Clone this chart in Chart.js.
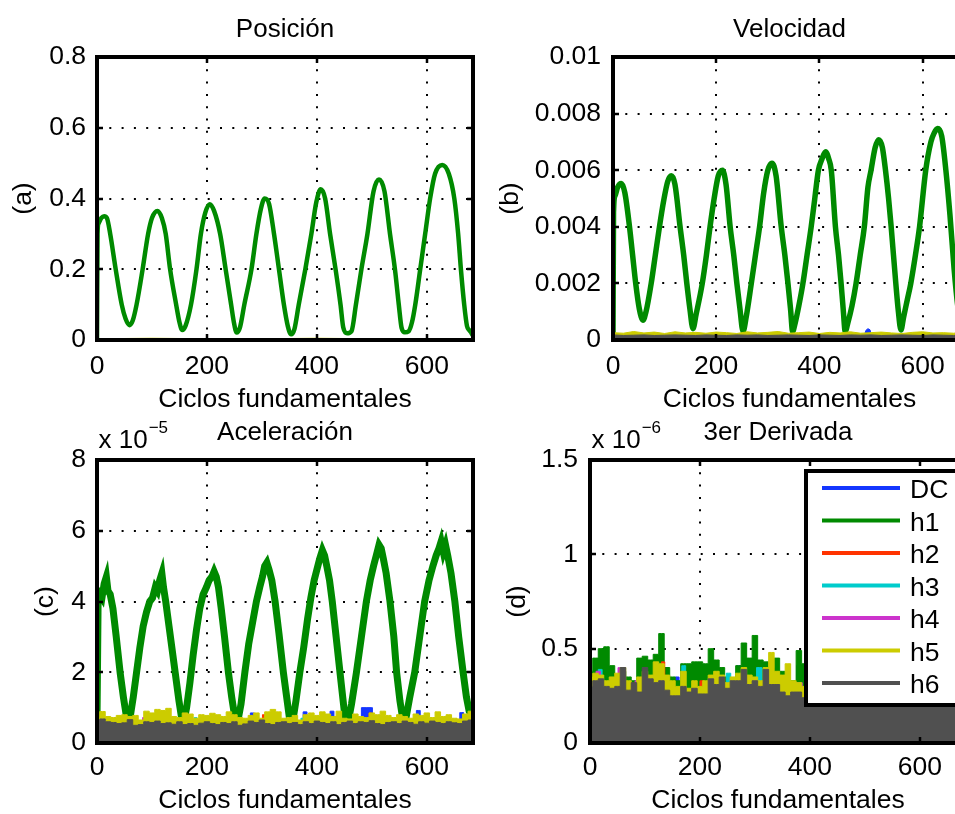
<!DOCTYPE html>
<html lang="es">
<head>
<meta charset="utf-8">
<title>Armónicos por ciclo</title>
<script src="https://cdn.jsdelivr.net/npm/chart.js@4.4.1/dist/chart.umd.min.js"></script>
<style>
  html, body { margin: 0; padding: 0; background: #fff; overflow: hidden; }
  body { position: relative; width: 955px; height: 814px; }
  canvas { position: absolute; }
</style>
</head>
<body>
<canvas id="pos" width="480" height="420" style="left:0;top:0"></canvas>
<canvas id="vel" width="500" height="420" style="left:480px;top:0"></canvas>
<canvas id="acc" width="480" height="394" style="left:0;top:420px"></canvas>
<canvas id="der" width="500" height="394" style="left:480px;top:420px"></canvas>
<script>
// series names / colours (DC + harmonics 1..6)
const seriesNames = ['DC', 'h1', 'h2', 'h3', 'h4', 'h5', 'h6'];
const seriesColors = ['#1436ff', '#008a00', '#ff3300', '#00cccc', '#cc33cc', '#cccc00', '#505050'];

// shared x ticks
const cycleTicks = [0, 200, 400, 600];
const cycleMax = 684;

// y ticks per panel
const posYTicks = [0, 0.2, 0.4, 0.6, 0.8];
const velYTicks = [0, 0.002, 0.004, 0.006, 0.008, 0.01];
const accYTicks = [0, 2, 4, 6, 8];        // x 10^-5
const derYTicks = [0, 0.5, 1, 1.5];       // x 10^-6

// (a) position, h1
const posX = [0, 1, 3, 8, 13, 18, 24, 34, 45, 52,
  59, 65, 72, 83, 93, 100, 110, 118, 125, 133,
  144, 150, 155, 161, 171, 181, 189, 197, 205, 213,
  224, 234, 244, 249, 254, 260, 268, 281, 290, 298,
  305, 313, 322, 331, 340, 347, 353, 359, 367, 379,
  390, 399, 407, 415, 424, 434, 443, 448, 455, 463,
  471, 481, 492, 503, 513, 523, 533, 542, 549, 554,
  560, 567, 573, 579, 588, 597, 606, 615, 628, 640,
  650, 657, 662, 668, 673, 677, 681, 684];
const posH1 = [0, 0.30, 0.33, 0.345, 0.35, 0.345, 0.30, 0.20, 0.10, 0.06,
  0.042, 0.055, 0.10, 0.20, 0.30, 0.345, 0.365, 0.345, 0.30, 0.20,
  0.10, 0.05, 0.028, 0.04, 0.10, 0.20, 0.30, 0.36, 0.384, 0.365,
  0.30, 0.20, 0.10, 0.05, 0.021, 0.035, 0.10, 0.20, 0.30, 0.37,
  0.40, 0.385, 0.30, 0.20, 0.10, 0.04, 0.016, 0.03, 0.10, 0.20,
  0.30, 0.39, 0.426, 0.40, 0.30, 0.20, 0.10, 0.035, 0.019, 0.025,
  0.10, 0.20, 0.30, 0.42, 0.454, 0.42, 0.30, 0.20, 0.10, 0.035,
  0.022, 0.025, 0.05, 0.10, 0.20, 0.30, 0.40, 0.47, 0.495, 0.47,
  0.40, 0.30, 0.20, 0.10, 0.04, 0.028, 0.02, 0.012];
const posNoiseX = [0, 100, 200, 300, 400, 500, 600, 684];
const posH5 = [0.0035, 0.005, 0.0035, 0.0035, 0.005, 0.0035, 0.0035, 0.0035];
const posH6 = [0.004, 0.0042, 0.004, 0.0038, 0.004, 0.0042, 0.004, 0.004];

// (b) velocity, h1
const velX = [0, 1, 4, 9, 16, 23, 32, 38, 44, 51,
  58, 64, 74, 82, 90, 98, 106, 113, 120, 130,
  137, 143, 149, 155, 161, 173, 181, 188, 196, 204,
  212, 219, 227, 234, 240, 246, 252, 258, 268, 276,
  284, 292, 300, 308, 316, 326, 333, 339, 344, 348,
  353, 360, 368, 376, 384, 391, 398, 405, 412, 418,
  423, 431, 437, 442, 446, 450, 455, 463, 471, 479,
  487, 494, 500, 508, 515, 522, 528, 534, 539, 548,
  553, 558, 563, 570, 577, 586, 594, 606, 616, 622,
  629, 637, 645, 653, 661, 668, 674, 679, 684];
const velH1 = [0, 0.0045, 0.0051, 0.0054, 0.00553, 0.0052, 0.004, 0.003, 0.002, 0.0011,
  0.0007, 0.001, 0.002, 0.003, 0.004, 0.0049, 0.0056, 0.0058, 0.0055, 0.004,
  0.003, 0.002, 0.0011, 0.0004, 0.0009, 0.002, 0.003, 0.004, 0.005, 0.0058,
  0.006, 0.0055, 0.004, 0.003, 0.002, 0.0011, 0.0003, 0.0008, 0.002, 0.003,
  0.004, 0.0052, 0.006, 0.00625, 0.0058, 0.004, 0.003, 0.002, 0.0011, 0.0003,
  0.0006, 0.0012, 0.002, 0.003, 0.004, 0.005, 0.006, 0.0064, 0.00665, 0.0064,
  0.006, 0.004, 0.003, 0.002, 0.0011, 0.0003, 0.0006, 0.0012, 0.002, 0.003,
  0.004, 0.0054, 0.006, 0.0068, 0.00708, 0.0068, 0.006, 0.005, 0.004, 0.002,
  0.001, 0.00035, 0.0008, 0.0014, 0.002, 0.003, 0.004, 0.006, 0.007, 0.0073,
  0.00747, 0.0072, 0.006, 0.0044, 0.0025, 0.0012, 0.0005, 0.0003, 0.0003];
const velNoiseX = [0, 20, 40, 60, 80, 100, 120, 140, 160, 180,
  200, 220, 240, 260, 280, 300, 320, 340, 360, 380,
  400, 420, 440, 460, 480, 500, 520, 540, 560, 580,
  600, 620, 640, 660, 680, 684];
const velH5 = [0.00026, 0.00024, 0.0003, 0.00025, 0.00028, 0.00023, 0.00029, 0.00025, 0.00027, 0.00024,
  0.00028, 0.00026, 0.00023, 0.00029, 0.00025, 0.00027, 0.0003, 0.00024, 0.00026, 0.00028,
  0.00023, 0.00027, 0.00025, 0.00029, 0.00024, 0.00026, 0.00028, 0.00025, 0.00023, 0.00027,
  0.00029, 0.00025, 0.00026, 0.00024, 0.00028, 0.00026];
const velH6 = [0.00018, 0.00016, 0.00017, 0.00018, 0.00016, 0.00017, 0.00018, 0.00017, 0.00016, 0.00018,
  0.00017, 0.00016, 0.00018, 0.00017, 0.00018, 0.00016, 0.00017, 0.00018, 0.00017, 0.00016,
  0.00018, 0.00017, 0.00016, 0.00018, 0.00017, 0.00018, 0.00016, 0.00017, 0.00018, 0.00017,
  0.00016, 0.00018, 0.00017, 0.00016, 0.00018, 0.00017];
const velDcX = [0, 486, 490, 494, 498, 502, 684];
const velDc = [0.0001, 0.0001, 0.00034, 0.0004, 0.00036, 0.0001, 0.0001];

// (c) acceleration (x 10^-5), h1
const accX = [0, 2, 5, 9, 13, 17, 20, 24, 29, 35,
  42, 48, 53, 57, 61, 66, 72, 78, 84, 90,
  96, 101, 106, 110, 114, 118, 121, 125, 131, 137,
  143, 149, 154, 158, 163, 169, 175, 181, 187, 193,
  199, 204, 209, 213, 217, 221, 226, 232, 239, 245,
  251, 256, 262, 269, 276, 283, 290, 296, 301, 305,
  309, 313, 318, 324, 331, 339, 345, 351, 356, 362,
  369, 376, 383, 389, 395, 400, 405, 410, 414, 418,
  423, 428, 435, 442, 447, 452, 457, 463, 472, 481,
  490, 497, 503, 508, 513, 517, 521, 526, 533, 540,
  545, 551, 557, 562, 569, 578, 587, 596, 604, 611,
  617, 622, 626, 630, 634, 638, 644, 651, 658, 666,
  672, 677, 681, 684];
const accH1 = [0.6, 4.0, 4.2, 4.1, 4.5, 4.7, 4.3, 4.2, 3.8, 3.0,
  2.0, 1.3, 0.8, 0.6, 0.8, 1.3, 2.0, 2.7, 3.3, 3.7,
  4.0, 4.1, 4.4, 4.3, 4.6, 4.8, 4.4, 4.0, 3.3, 2.6,
  1.9, 1.2, 0.7, 0.6, 1.0, 1.7, 2.5, 3.2, 3.8, 4.2,
  4.4, 4.6, 4.7, 4.85, 4.7, 4.4, 3.8, 3.0, 2.0, 1.3,
  0.7, 0.6, 1.1, 2.0, 2.8, 3.4, 4.0, 4.4, 4.7, 5.0,
  5.1, 4.9, 4.6, 4.0, 3.1, 2.0, 1.3, 0.6, 0.6, 1.2,
  2.0, 2.7, 3.5, 4.1, 4.6, 4.9, 5.2, 5.45, 5.3, 5.0,
  4.6, 4.0, 3.0, 2.0, 1.3, 0.6, 0.6, 1.1, 2.0, 3.0,
  4.0, 4.6, 5.0, 5.3, 5.6, 5.5, 5.2, 4.8, 4.0, 3.0,
  2.0, 1.2, 0.6, 0.7, 1.3, 2.0, 3.0, 4.0, 4.6, 5.0,
  5.3, 5.5, 5.7, 5.4, 5.6, 5.3, 4.8, 4.0, 3.0, 2.0,
  1.3, 0.9, 0.8, 0.9];

// harmonic noise envelopes, sampled every 10 cycles
const noiseX = [0, 10, 20, 30, 40, 50, 60, 70, 80, 90,
  100, 110, 120, 130, 140, 150, 160, 170, 180, 190,
  200, 210, 220, 230, 240, 250, 260, 270, 280, 290,
  300, 310, 320, 330, 340, 350, 360, 370, 380, 390,
  400, 410, 420, 430, 440, 450, 460, 470, 480, 490,
  500, 510, 520, 530, 540, 550, 560, 570, 580, 590,
  600, 610, 620, 630, 640, 650, 660, 670, 680, 684];
const accH5 = [0.7, 0.89, 0.75, 0.72, 0.78, 0.8, 0.75, 0.78, 0.65, 0.9,
  0.85, 0.95, 0.92, 0.98, 0.75, 0.72, 0.85, 0.82, 0.7, 0.8,
  0.78, 0.84, 0.8, 0.75, 0.88, 0.8, 0.72, 0.7, 0.78, 0.85,
  0.7, 0.88, 0.95, 0.88, 0.7, 0.72, 0.78, 0.65, 0.8, 0.85,
  0.78, 0.88, 0.82, 0.75, 0.9, 0.7, 0.68, 0.82, 0.75, 0.72,
  0.85, 0.8, 0.9, 0.78, 0.72, 0.8, 0.75, 0.7, 0.82, 0.78,
  0.85, 0.72, 0.88, 0.75, 0.8, 0.7, 0.68, 0.82, 0.9, 0.92];
const accH6 = [0.65, 0.68, 0.6, 0.58, 0.55, 0.57, 0.66, 0.5, 0.52, 0.6,
  0.58, 0.62, 0.55, 0.57, 0.53, 0.6, 0.52, 0.55, 0.5, 0.56,
  0.6, 0.55, 0.52, 0.58, 0.55, 0.6, 0.5, 0.54, 0.62, 0.58,
  0.65, 0.55, 0.52, 0.58, 0.6, 0.55, 0.58, 0.52, 0.6, 0.55,
  0.62, 0.58, 0.55, 0.6, 0.52, 0.58, 0.62, 0.55, 0.6, 0.58,
  0.63, 0.55, 0.52, 0.58, 0.6, 0.55, 0.62, 0.58, 0.53, 0.6,
  0.56, 0.62, 0.58, 0.55, 0.6, 0.57, 0.55, 0.62, 0.65, 0.66];
const accDcX = [0, 278, 280, 285, 287, 374, 376, 381, 383, 423, 425, 430, 432,
  480, 482, 500, 502, 580, 582, 587, 589, 659, 661, 666, 668, 684];
const accDc = [0.3, 0.3, 0.85, 0.85, 0.3, 0.3, 0.88, 0.88, 0.3, 0.3, 0.9, 0.9, 0.3,
  0.3, 1.0, 1.0, 0.3, 0.3, 0.92, 0.92, 0.3, 0.3, 0.86, 0.86, 0.3, 0.3];
const accH2X = [0, 300, 302, 305, 307, 431, 433, 436, 438, 494, 496, 499, 501, 684];
const accH2 = [0.3, 0.3, 0.8, 0.8, 0.3, 0.3, 0.75, 0.75, 0.3, 0.3, 0.85, 0.85, 0.3, 0.3];
const accH3X = [0, 176, 178, 181, 183, 370, 372, 375, 377, 684];
const accH3 = [0.3, 0.3, 0.72, 0.72, 0.3, 0.3, 0.7, 0.7, 0.3, 0.3];
const accH4X = [0, 82, 84, 87, 89, 618, 620, 623, 625, 684];
const accH4 = [0.3, 0.3, 0.72, 0.72, 0.3, 0.3, 0.7, 0.7, 0.3, 0.3];

// (d) third derivative (x 10^-6)
const derH6 = [0.30, 0.33, 0.34, 0.30, 0.29, 0.30, 0.40, 0.28, 0.32, 0.27,
  0.40, 0.34, 0.32, 0.33, 0.28, 0.25, 0.25, 0.30, 0.27, 0.29,
  0.26, 0.26, 0.34, 0.31, 0.35, 0.29, 0.33, 0.33, 0.39, 0.31,
  0.33, 0.30, 0.39, 0.31, 0.31, 0.27, 0.25, 0.27, 0.27, 0.24,
  0.30, 0.28, 0.33, 0.30, 0.27, 0.32, 0.29, 0.35, 0.30, 0.28,
  0.31, 0.34, 0.29, 0.27, 0.32, 0.30, 0.28, 0.33, 0.30, 0.29,
  0.31, 0.27, 0.30, 0.33, 0.28, 0.30, 0.32, 0.29, 0.31, 0.30];
const derColX = [0, 10, 20, 30, 40, 50, 60, 70, 80, 90,
  100, 110, 120, 130, 140, 150, 160, 170, 180, 190,
  200, 210, 220, 230, 240, 250, 260, 270, 280, 290,
  300, 310, 320, 330, 340, 350, 360, 370, 380, 390, 400];
const derH5 = [0.35, 0.37, 0.36, 0.33, 0.35, 0.37, 0.40, 0.33, 0.30, 0.35,
  0.38, 0.36, 0.43, 0.42, 0.36, 0.33, 0.30, 0.38, 0.29, 0.33,
  0.30, 0.33, 0.36, 0.38, 0.36, 0.32, 0.35, 0.37, 0.40, 0.36,
  0.35, 0.33, 0.40, 0.48, 0.38, 0.36, 0.42, 0.33, 0.32, 0.30, 0.30];
const derH1 = [0.38, 0.45, 0.50, 0.51, 0.41, 0.36, 0.38, 0.35, 0.33, 0.45,
  0.46, 0.44, 0.47, 0.58, 0.40, 0.35, 0.33, 0.42, 0.42, 0.43,
  0.43, 0.42, 0.50, 0.44, 0.40, 0.35, 0.34, 0.41, 0.53, 0.45,
  0.57, 0.44, 0.43, 0.40, 0.45, 0.38, 0.31, 0.33, 0.49, 0.42, 0.40];
const derDcX = [0, 135, 137, 142, 144, 154, 156, 161, 163, 266, 268, 273, 275,
  296, 298, 301, 303, 375, 377, 382, 384, 400];
const derDc = [0.15, 0.15, 0.40, 0.40, 0.15, 0.15, 0.35, 0.35, 0.15, 0.15, 0.41, 0.41, 0.15,
  0.15, 0.47, 0.47, 0.15, 0.15, 0.41, 0.41, 0.15, 0.15];
const derH2X = [0, 129, 131, 135, 137, 199, 201, 206, 208, 400];
const derH2 = [0.15, 0.15, 0.43, 0.43, 0.15, 0.15, 0.33, 0.33, 0.15, 0.15];
const derH3X = [0, 14, 16, 21, 23, 166, 168, 173, 175, 247, 249, 255, 257,
  302, 304, 312, 314, 354, 356, 364, 366, 400];
const derH3 = [0.15, 0.15, 0.39, 0.39, 0.15, 0.15, 0.41, 0.41, 0.15, 0.15, 0.37, 0.37, 0.15,
  0.15, 0.40, 0.40, 0.15, 0.15, 0.33, 0.33, 0.15, 0.15];
const derH4X = [0, 10, 12, 18, 20, 50, 52, 56, 58, 81, 83, 88, 90, 366, 368, 385, 387, 400];
const derH4 = [0.15, 0.15, 0.38, 0.38, 0.15, 0.15, 0.40, 0.40, 0.15, 0.15, 0.33, 0.33, 0.15,
  0.15, 0.32, 0.32, 0.15, 0.15];

const FONT = "'Liberation Sans', Arial, Helvetica, sans-serif";
const TEXT_SIZE = 26.5;
Chart.defaults.font.family = FONT;
Chart.defaults.font.size = TEXT_SIZE;
Chart.defaults.color = '#000';

function pts(xs, ys) {
  return xs.map((x, i) => ({ x: x, y: ys[i] }));
}

// plain trace; later harmonics get a lower order so they paint on top
function line(i, xs, ys, width, smooth) {
  return {
    label: seriesNames[i], data: pts(xs, ys),
    borderColor: seriesColors[i], borderWidth: width,
    pointRadius: 0, fill: false,
    tension: smooth ? 0.4 : 0,
    cubicInterpolationMode: smooth ? 'monotone' : 'default',
    order: -i
  };
}

// dense oscillating harmonic drawn as its filled envelope
function band(i, xs, ys, stepped) {
  return {
    label: seriesNames[i], data: pts(xs, ys),
    borderColor: seriesColors[i], backgroundColor: seriesColors[i],
    borderWidth: 1, pointRadius: 0, fill: 'origin',
    stepped: stepped ? 'middle' : false,
    order: -i
  };
}

function drawLegend(ctx, a) {
  const left = a.left + 216, top = a.top + 11;
  const right = a.right - 4, bottom = a.top + 245;
  ctx.fillStyle = '#fff';
  ctx.fillRect(left, top, right - left, bottom - top);
  ctx.lineWidth = 4;
  ctx.strokeStyle = '#000';
  ctx.strokeRect(left, top, right - left, bottom - top);
  ctx.font = TEXT_SIZE + 'px ' + FONT;
  ctx.textAlign = 'left';
  ctx.textBaseline = 'alphabetic';
  seriesNames.forEach((name, i) => {
    const base = top + 27 + i * 32.5;
    ctx.strokeStyle = seriesColors[i];
    ctx.lineWidth = 4;
    ctx.beginPath();
    ctx.moveTo(left + 16, base - 10);
    ctx.lineTo(left + 94, base - 10);
    ctx.stroke();
    ctx.fillStyle = '#000';
    ctx.fillText(name, left + 104, base);
  });
}

// box, inward tick marks, subplot title, exponent and legend
function decor(cfg) {
  return {
    id: 'decor',
    afterDatasetsDraw(chart) {
      const { ctx, chartArea: a, scales } = chart;
      ctx.save();
      ctx.strokeStyle = '#000';
      ctx.lineWidth = 2.5;
      ctx.beginPath();
      cycleTicks.forEach(v => {
        const px = Math.round(scales.x.getPixelForValue(v));
        ctx.moveTo(px, a.bottom); ctx.lineTo(px, a.bottom - 6);
        ctx.moveTo(px, a.top); ctx.lineTo(px, a.top + 6);
      });
      cfg.yTicks.forEach(v => {
        const py = Math.round(scales.y.getPixelForValue(v));
        ctx.moveTo(a.left, py); ctx.lineTo(a.left + 6, py);
        ctx.moveTo(a.right, py); ctx.lineTo(a.right - 6, py);
      });
      ctx.stroke();
      ctx.lineWidth = 4;
      ctx.strokeRect(a.left, a.top, a.right - a.left, a.bottom - a.top);
      ctx.restore();
    },
    afterDraw(chart) {
      const { ctx, chartArea: a } = chart;
      ctx.save();
      ctx.fillStyle = '#000';
      ctx.font = '26px ' + FONT;
      ctx.textAlign = 'center';
      ctx.textBaseline = 'alphabetic';
      ctx.fillText(cfg.title, (a.left + a.right) / 2, a.top - 20);
      if (cfg.exponent) {
        ctx.textAlign = 'left';
        ctx.fillText('x 10', a.left + 1.5, a.top - 12);
        const w = ctx.measureText('x 10').width;
        ctx.font = '17px ' + FONT;
        ctx.fillText('\u2212' + cfg.exponent, a.left + 2.5 + w, a.top - 27);
      }
      if (cfg.legend) drawLegend(ctx, a);
      ctx.restore();
    }
  };
}

function panel(id, cfg, datasets) {
  const grid = { color: '#000', lineWidth: 2, drawTicks: false };
  const border = { display: false, dash: [2, 10.3] };
  return new Chart(document.getElementById(id), {
    type: 'line',
    data: { datasets: datasets },
    options: {
      responsive: false,
      animation: false,
      events: [],
      layout: { autoPadding: false, padding: { top: cfg.top, right: cfg.right, left: 0, bottom: 0 } },
      plugins: { legend: { display: false }, tooltip: { enabled: false } },
      scales: {
        x: {
          type: 'linear', min: 0, max: cycleMax,
          afterBuildTicks: s => { s.ticks = cycleTicks.map(v => ({ value: v })); },
          afterFit: s => { s.height = cfg.xHeight; },
          ticks: { padding: cfg.xTickPad, maxRotation: 0, autoSkip: false, callback: v => String(v) },
          grid: grid, border: border,
          title: { display: true, text: 'Ciclos fundamentales', font: { size: TEXT_SIZE, lineHeight: 1 },
                   padding: { top: 0, bottom: cfg.xTitlePad } }
        },
        y: {
          type: 'linear', min: 0, max: cfg.yMax,
          afterBuildTicks: s => { s.ticks = cfg.yTicks.map(v => ({ value: v })); },
          afterFit: s => { s.width = cfg.yWidth; },
          ticks: { padding: cfg.yTickPad, autoSkip: false, callback: v => String(v) },
          grid: grid, border: border,
          title: { display: true, text: cfg.yTitle, font: { size: TEXT_SIZE, lineHeight: 1 },
                   padding: { top: cfg.yTitlePad, bottom: 0 } }
        }
      }
    },
    plugins: [decor(cfg)]
  });
}

panel('pos', {
  title: 'Posición', yTitle: '(a)', yMax: 0.8, yTicks: posYTicks,
  top: 57, right: 7, yWidth: 97, xHeight: 80,
  yTickPad: 11, xTickPad: 10.5, xTitlePad: 7, yTitlePad: 10
}, [
  line(1, posX, posH1, 4.5, true),
  band(5, posNoiseX, posH5),
  band(6, posNoiseX, posH6)
]);

panel('vel', {
  title: 'Velocidad', yTitle: '(b)', yMax: 0.01, yTicks: velYTicks,
  top: 57, right: 14, yWidth: 133, xHeight: 80,
  yTickPad: 12, xTickPad: 10.5, xTitlePad: 7, yTitlePad: 17
}, [
  band(0, velDcX, velDc),
  line(1, velX, velH1, 5.5, true),
  band(5, velNoiseX, velH5),
  band(6, velNoiseX, velH6)
]);

panel('acc', {
  title: 'Aceleración', yTitle: '(c)', yMax: 8, yTicks: accYTicks, exponent: '5',
  top: 40, right: 7, yWidth: 97, xHeight: 71,
  yTickPad: 11, xTickPad: 9, xTitlePad: 0, yTitlePad: 32
}, [
  band(0, accDcX, accDc, true),
  line(1, accX, accH1, 7, false),
  band(2, accH2X, accH2, true),
  band(3, accH3X, accH3, true),
  band(4, accH4X, accH4, true),
  band(5, noiseX, accH5, true),
  band(6, noiseX, accH6, true)
]);

panel('der', {
  title: '3er Derivada', yTitle: '(d)', yMax: 1.5, yTicks: derYTicks, exponent: '6', legend: true,
  top: 40, right: 14, yWidth: 110, xHeight: 71,
  yTickPad: 12, xTickPad: 9, xTitlePad: 0, yTitlePad: 24
}, [
  band(0, derDcX, derDc, true),
  band(1, derColX, derH1, true),
  band(2, derH2X, derH2, true),
  band(3, derH3X, derH3, true),
  band(4, derH4X, derH4, true),
  band(5, derColX, derH5, true),
  band(6, noiseX, derH6, true)
]);
</script>
</body>
</html>
